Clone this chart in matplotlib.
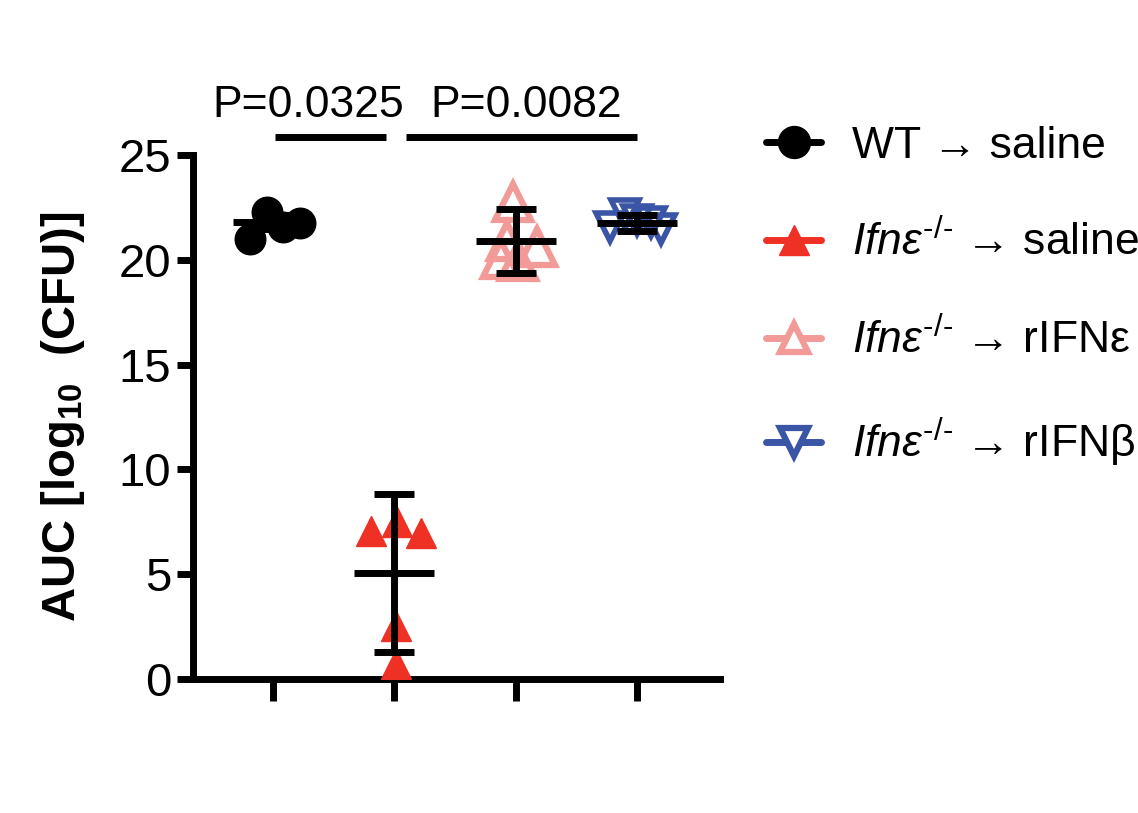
import numpy as np
import matplotlib.pyplot as plt
from matplotlib.lines import Line2D

plt.rcParams['font.family'] = ['Liberation Sans', 'DejaVu Sans']
plt.rcParams['mathtext.fontset'] = 'custom'
plt.rcParams['mathtext.rm'] = 'Liberation Sans'
plt.rcParams['mathtext.it'] = 'Liberation Sans:italic'
plt.rcParams['mathtext.bf'] = 'Liberation Sans:bold'

# group positions
groups = [1, 2, 3, 4]

# individual animals (x jitter)
wt_x = [0.81, 0.95, 1.08, 1.22]
wt_y = [21.0, 22.27, 21.58, 21.74]
sal_x = [1.81, 2.02, 2.22, 2.01, 2.01]
sal_y = [7.04, 7.47, 6.99, 2.53, 0.74]
eps_x = [2.98, 2.93, 2.88, 3.18, 3.02]
eps_y = [22.75, 20.9, 20.05, 20.6, 19.95]
bet_x = [3.78, 3.9, 4.12, 4.2, 4.0]
bet_y = [21.55, 22.2, 21.8, 21.45, 21.9]

# mean and SD
means = [21.8, 5.07, 20.9, 21.77]
sds = [0.35, 3.77, 1.52, 0.38]

pvals = ['P=0.0325', 'P=0.0082']
p_text_x = [1.29, 3.09]
p_bar_x = [(1.016, 1.93), (2.10, 4.0)]

labels = ['WT \u2192 saline',
          '$\\mathit{Ifn\u03b5}^{\\mathit{\u2010/\u2010}}$ \u2192 saline',
          '$\\mathit{Ifn\u03b5}^{\\mathit{\u2010/\u2010}}$ \u2192 rIFN\u03b5',
          '$\\mathit{Ifn\u03b5}^{\\mathit{\u2010/\u2010}}$ \u2192 rIFN\u03b2']

black = '#000000'
red = '#EE3124'
pink = '#F29A98'
blue = '#3A55A6'

fig = plt.figure(figsize=(11.38, 8.13), dpi=100)
ax = fig.add_axes([0.1696, 0.1648, 0.4631, 0.6445])

lw = 5
ax.plot(wt_x, wt_y, 'o', ms=22, color=black, ls='none', zorder=3)
ax.plot(sal_x, sal_y, '^', ms=22, color=red, ls='none', zorder=3)
ax.plot(eps_x, eps_y, '^', ms=26, mfc='none', mec=pink, mew=4.5, ls='none', zorder=3)
ax.plot(bet_x, bet_y, 'v', ms=20, mfc='none', mec=blue, mew=4, ls='none', zorder=3)

# mean +/- SD
for g, m, s in zip(groups, means, sds):
    ax.plot([g - 0.33, g + 0.33], [m, m], color=black, lw=lw, solid_capstyle='butt', zorder=4)
    ax.plot([g, g], [m - s, m + s], color=black, lw=lw, solid_capstyle='butt', zorder=4)
    for c in (m - s, m + s):
        ax.plot([g - 0.165, g + 0.165], [c, c], color=black, lw=lw, solid_capstyle='butt', zorder=4)

# significance
for txt, tx, (x0, x1) in zip(pvals, p_text_x, p_bar_x):
    ax.plot([x0, x1], [25.87, 25.87], color=black, lw=lw, solid_capstyle='butt', clip_on=False)
    ax.text(tx, 26.83, txt, ha='center', va='baseline', fontsize=32)

ax.set_xlim(0.34, 4.685)
ax.set_ylim(0, 25)
ax.set_xticks(groups)
ax.set_xticklabels([])
ax.set_yticks([0, 5, 10, 15, 20, 25])
ax.tick_params(axis='y', labelsize=34, length=11.5, width=lw, pad=4)
ax.tick_params(axis='x', length=16, width=lw)
for sp in ['top', 'right']:
    ax.spines[sp].set_visible(False)
for sp in ['left', 'bottom']:
    ax.spines[sp].set_linewidth(lw)
ax.set_ylabel('AUC [log$_{\\mathbf{10}}$  (CFU)]', fontsize=34, fontweight='bold', labelpad=23)

handles = [
    Line2D([0], [0], color=black, lw=lw, marker='o', ms=23, solid_capstyle='round'),
    Line2D([0], [0], color=red, lw=lw, marker='^', ms=22, solid_capstyle='round'),
    Line2D([0], [0], color=pink, lw=lw, marker='^', ms=20, mfc='white', mec=pink, mew=4.5, solid_capstyle='round'),
    Line2D([0], [0], color=blue, lw=lw, marker='v', ms=20, mfc='white', mec=blue, mew=4.5, solid_capstyle='round'),
]
fig.legend(handles, labels, loc='upper left', bbox_to_anchor=(0.673, 0.845),
           frameon=False, fontsize=32, handlelength=1.25, handletextpad=0.68,
           labelspacing=1.2, borderpad=0, borderaxespad=0)

fig.savefig('out.png', dpi=100)
